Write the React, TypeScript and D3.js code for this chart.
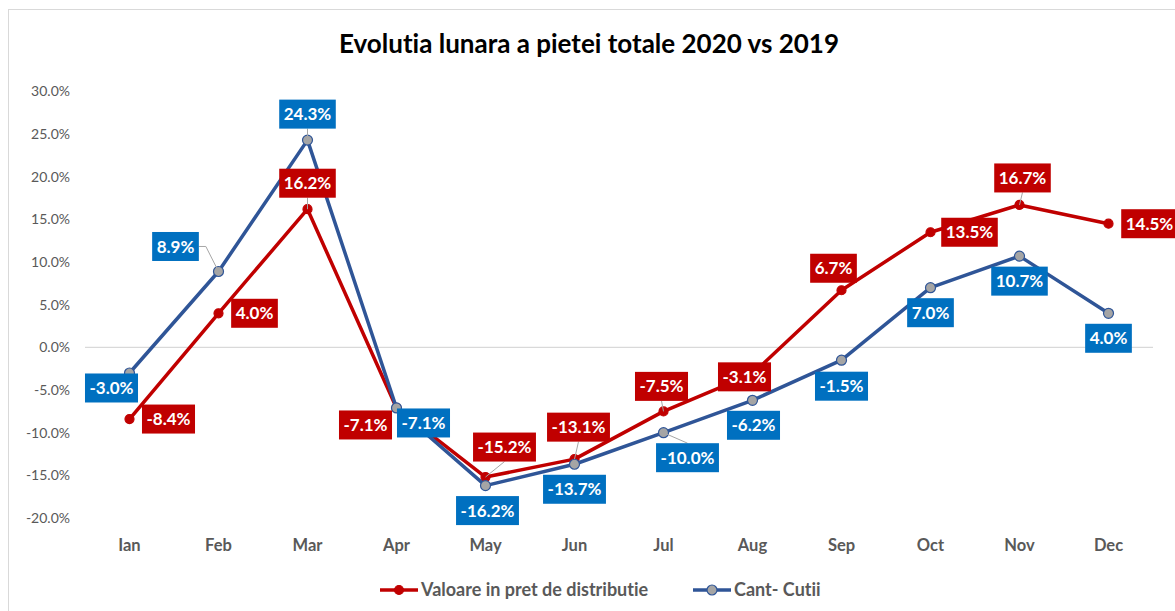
import * as d3 from "d3";
import { useEffect, useRef } from "react";

const months = ["Ian", "Feb", "Mar", "Apr", "May", "Jun", "Jul", "Aug", "Sep", "Oct", "Nov", "Dec"];
const valoare = [-8.4, 4.0, 16.2, -7.1, -15.2, -13.1, -7.5, -3.1, 6.7, 13.5, 16.7, 14.5];
const cantCutii = [-3.0, 8.9, 24.3, -7.1, -16.2, -13.7, -10.0, -6.2, -1.5, 7.0, 10.7, 4.0];
const yTicks = [-20, -15, -10, -5, 0, 5, 10, 15, 20, 25, 30];
const seriesNames = ["Valoare in pret de distributie", "Cant- Cutii"];

// where each data label box sits, relative to its point: [dx, dy, leader line?]
const valoareLabelPos = [
  [39, 0, 0], [36, 0, 0], [0, -26, 1], [-31, 17, 0], [19, -30, 1], [4, -32, 1],
  [-2, -25, 1], [-8, 3, 0], [-8, -22, 0], [39, 0, 0], [3, -27, 1], [41, 0, 0],
];
const cantLabelPos = [
  [-18, 15, 0], [-43, -25, 1], [0, -26, 1], [27, 15, 0], [2, 25, 0], [0, 25, 0],
  [24, 25, 1], [1, 25, 0], [0, 26, 0], [0, 25, 0], [0, 25, 0], [0, 25, 0],
];

const RED = "#C00000";
const BLUE_LINE = "#2F5597";
const BLUE_LABEL = "#0070C0";
const GRAY_TEXT = "#595959";
const FONT = "Lato, 'Open Sans', sans-serif";

const App = () => {
  const ref = useRef<SVGSVGElement>(null);

  useEffect(() => {
    const svg = d3.select(ref.current);
    svg.selectAll("*").remove();
    svg.style("font-variant-ligatures", "none");

    const left = 85, right = 1153, top = 91.5, bottom = 518;

    const x = d3.scalePoint().domain(months).range([left, right]).padding(0.5);
    const y = d3.scaleLinear().domain([-20, 30]).range([bottom, top]);
    const fmt = (v: number) => v.toFixed(1) + "%";

    // chart border
    svg.append("rect")
      .attr("x", 8.5).attr("y", 9.5)
      .attr("width", 1200).attr("height", 700)
      .attr("fill", "#fff").attr("stroke", "#d9d9d9");

    // title
    svg.append("text")
      .attr("x", 589).attr("y", 53)
      .attr("text-anchor", "middle")
      .attr("font-family", FONT).attr("font-weight", "bold")
      .attr("font-size", 26).attr("fill", "#000")
      .text("Evolutia lunara a pietei totale 2020 vs 2019");

    // y axis labels
    svg.append("g").selectAll("text")
      .data(yTicks)
      .join("text")
      .attr("x", 70).attr("y", (d) => y(d))
      .attr("dy", "0.35em")
      .attr("text-anchor", "end")
      .attr("font-family", FONT).attr("font-size", 14)
      .attr("fill", GRAY_TEXT)
      .text((d) => fmt(d));

    // zero line
    svg.append("line")
      .attr("x1", left).attr("x2", right)
      .attr("y1", y(0)).attr("y2", y(0))
      .attr("stroke", "#d9d9d9").attr("stroke-width", 1.3);

    // categories
    svg.append("g").selectAll("text")
      .data(months)
      .join("text")
      .attr("x", (d) => x(d)!).attr("y", 545)
      .attr("dy", "0.35em")
      .attr("text-anchor", "middle")
      .attr("font-family", FONT).attr("font-weight", "bold").attr("font-size", 16.5)
      .attr("fill", GRAY_TEXT)
      .text((d) => d);

    const line = d3.line<number>()
      .x((_, i) => x(months[i])!)
      .y((d) => y(d));

    const series = [
      { values: valoare, color: RED, marker: RED, markerStroke: RED, r: 4.5, label: RED, pos: valoareLabelPos },
      { values: cantCutii, color: BLUE_LINE, marker: "#A5A5A5", markerStroke: BLUE_LINE, r: 5, label: BLUE_LABEL, pos: cantLabelPos },
    ];

    series.forEach((s) => {
      svg.append("path")
        .datum(s.values)
        .attr("d", line)
        .attr("fill", "none")
        .attr("stroke", s.color)
        .attr("stroke-width", 3.5)
        .attr("stroke-linejoin", "round");
      svg.append("g").selectAll("circle")
        .data(s.values)
        .join("circle")
        .attr("cx", (_, i) => x(months[i])!)
        .attr("cy", (d) => y(d))
        .attr("r", s.r)
        .attr("fill", s.marker)
        .attr("stroke", s.markerStroke)
        .attr("stroke-width", 1.2);
    });

    // data labels
    const leaders = svg.append("g");
    const labels = svg.append("g");
    series.forEach((s) => {
      s.values.forEach((v, i) => {
        const px = x(months[i])!;
        const py = y(v);
        const [dx, dy, lead] = s.pos[i];
        const cx = px + dx, cy = py + dy;
        const g = labels.append("g");
        const rect = g.append("rect").attr("fill", s.label);
        const t = g.append("text")
          .attr("x", cx).attr("y", cy)
          .attr("dy", "0.36em")
          .attr("text-anchor", "middle")
          .attr("font-family", FONT).attr("font-weight", "bold").attr("font-size", 17)
          .attr("fill", "#fff")
          .text(fmt(v));
        const w = (t.node() as SVGTextElement).getComputedTextLength() + 9;
        const h = 29;
        rect.attr("x", cx - w / 2).attr("y", cy - h / 2).attr("width", w).attr("height", h);

        if (lead) {
          let pts: [number, number][];
          if (Math.abs(dx) > Math.abs(dy)) {
            const ex = dx < 0 ? cx + w / 2 : cx - w / 2;
            const stub = dx < 0 ? ex + 7 : ex - 7;
            pts = [[ex, cy], [stub, cy], [px, py]];
          } else {
            const ey = dy < 0 ? cy + h / 2 : cy - h / 2;
            pts = [[cx, ey], [px, py]];
          }
          leaders.append("path")
            .attr("d", d3.line()(pts))
            .attr("fill", "none")
            .attr("stroke", "#A6A6A6")
            .attr("stroke-width", 1);
        }
      });
    });

    // legend
    const legendItems = [
      { name: seriesNames[0], x0: 380, s: series[0] },
      { name: seriesNames[1], x0: 693, s: series[1] },
    ];
    legendItems.forEach((d) => {
      const g = svg.append("g");
      g.append("line")
        .attr("x1", d.x0).attr("x2", d.x0 + 38)
        .attr("y1", 590).attr("y2", 590)
        .attr("stroke", d.s.color).attr("stroke-width", 3.5);
      g.append("circle")
        .attr("cx", d.x0 + 19).attr("cy", 590).attr("r", d.s.r)
        .attr("fill", d.s.marker).attr("stroke", d.s.markerStroke).attr("stroke-width", 1.2);
      g.append("text")
        .attr("x", d.x0 + 41).attr("y", 590)
        .attr("dy", "0.35em")
        .attr("font-family", FONT).attr("font-weight", "bold").attr("font-size", 18)
        .attr("fill", GRAY_TEXT)
        .text(d.name);
    });
  }, []);

  return (
    <svg
      ref={ref}
      width={1175}
      height={611}
      style={{ position: "absolute", left: 0, top: 0 }}
    />
  );
};

export default App;
